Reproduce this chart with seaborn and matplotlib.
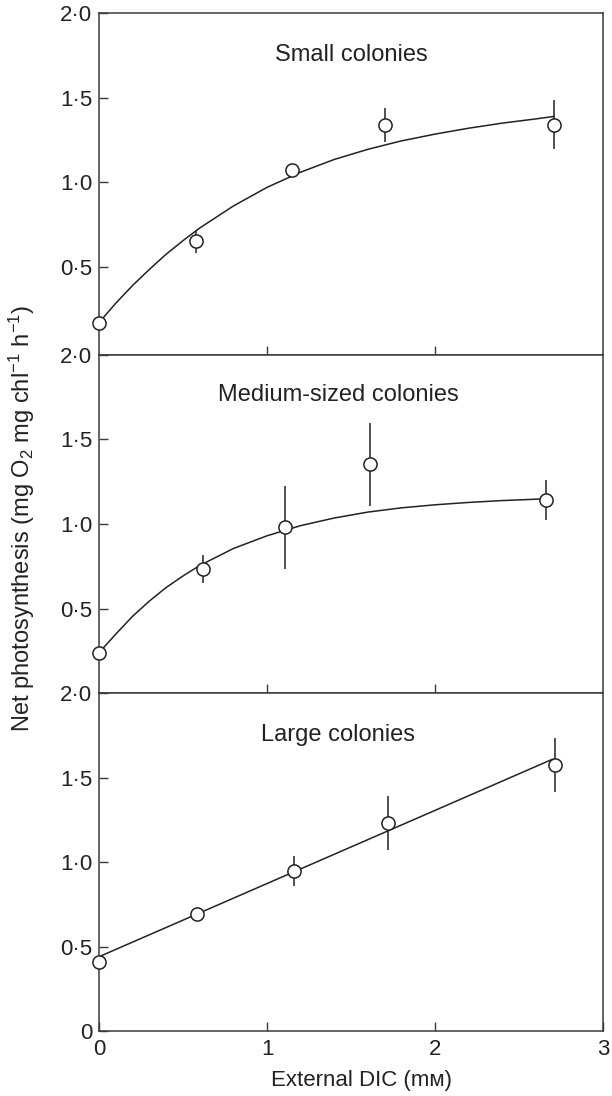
import matplotlib
matplotlib.use('Agg')
import matplotlib.pyplot as plt
import seaborn as sns
from matplotlib.ticker import FuncFormatter

small_x = [0, 0.58, 1.15, 1.70, 2.71]
small_y = [0.17, 0.65, 1.07, 1.34, 1.34]
small_err = [0, 0.07, 0.02, 0.10, 0.145]

medium_x = [0, 0.62, 1.107, 1.615, 2.66]
medium_y = [0.24, 0.736, 0.98, 1.353, 1.142]
medium_err = [0, 0.083, 0.245, 0.245, 0.12]

large_x = [0, 0.583, 1.163, 1.718, 2.714]
large_y = [0.407, 0.691, 0.948, 1.23, 1.575]
large_err = [0, 0.03, 0.09, 0.16, 0.16]

# fitted curves
small_fit_x = [0, 0.1, 0.2, 0.3, 0.4, 0.5, 0.6, 0.8, 1.0, 1.2, 1.4, 1.6, 1.8,
               2.0, 2.2, 2.4, 2.6, 2.71]
small_fit_y = [0.17, 0.285, 0.39, 0.485, 0.575, 0.655, 0.73, 0.86, 0.97, 1.06,
               1.135, 1.195, 1.245, 1.285, 1.32, 1.35, 1.375, 1.39]

medium_fit_x = [0, 0.1, 0.2, 0.3, 0.4, 0.5, 0.6, 0.8, 1.0, 1.2, 1.4, 1.6, 1.8,
                2.0, 2.2, 2.4, 2.6, 2.66]
medium_fit_y = [0.24, 0.35, 0.455, 0.545, 0.625, 0.693, 0.755, 0.855, 0.93,
                0.99, 1.035, 1.07, 1.095, 1.113, 1.127, 1.138, 1.146, 1.149]

large_fit_x = [0, 2.70]
large_fit_y = [0.44, 1.61]

panel_titles = ['Small colonies', 'Medium-sized colonies', 'Large colonies']
x_ticks = [0, 1, 2, 3]

sns.set_style('ticks')
plt.rcParams['font.family'] = ['Liberation Sans', 'DejaVu Sans']
plt.rcParams['mathtext.fontset'] = 'custom'
plt.rcParams['mathtext.rm'] = 'Liberation Sans'
plt.rcParams['mathtext.it'] = 'Liberation Sans:italic'

ink = '#222222'
spine_col = '#3a3a3a'

fig = plt.figure(figsize=(6.12, 10.96), dpi=100)
rects = [[0.1618, 0.6765, 0.8235, 0.3114],
         [0.1618, 0.3674, 0.8235, 0.3091],
         [0.1618, 0.0593, 0.8235, 0.3081]]
ylims = [(-0.019, 2.0), (0, 2.0), (0, 2.0)]
title_pos = [(0.5, 0.878), (0.475, 0.882), (0.475, 0.877)]

panels = [
    (small_x, small_y, small_err, small_fit_x, small_fit_y),
    (medium_x, medium_y, medium_err, medium_fit_x, medium_fit_y),
    (large_x, large_y, large_err, large_fit_x, large_fit_y),
]


def fmt_tick(v, pos):
    if abs(v) < 1e-9:
        return '0'
    return f'{v:.1f}'.replace('.', '\u00b7')


for i, (px, py, pe, fx, fy) in enumerate(panels):
    ax = fig.add_axes(rects[i])
    sns.lineplot(x=fx, y=fy, ax=ax, color=ink, lw=1.1, sort=False,
                 estimator=None, zorder=2)
    ax.errorbar(px, py, yerr=pe, fmt='none', ecolor=ink, elinewidth=1.1,
                capsize=0, zorder=3, clip_on=False)
    sns.scatterplot(x=px, y=py, ax=ax, s=90, facecolor='white',
                    edgecolor=ink, linewidth=1.1, zorder=5, clip_on=False)

    ax.set_xlim(0, 3)
    ax.set_ylim(*ylims[i])
    if i == 2:
        ax.set_yticks([0, 0.5, 1.0, 1.5, 2.0])
        ax.set_xticks(x_ticks)
        ax.set_xticklabels([str(t) for t in x_ticks])
    else:
        ax.set_yticks([0.5, 1.0, 1.5, 2.0])
        ax.set_xticks([1, 2])
        ax.set_xticklabels([])
    ax.yaxis.set_major_formatter(FuncFormatter(fmt_tick))
    ax.tick_params(axis='both', direction='in', length=6.5, width=1.0,
                   color=spine_col, labelsize=16, labelcolor=ink)
    ax.tick_params(axis='y', pad=5)
    ax.tick_params(axis='x', pad=6)
    for sp in ax.spines.values():
        sp.set_color(spine_col)
        sp.set_linewidth(1.1)
    ax.set_xlabel('')
    ax.set_ylabel('')
    ax.text(title_pos[i][0], title_pos[i][1], panel_titles[i],
            transform=ax.transAxes, ha='center', va='center',
            fontsize=17, color=ink)

fig.text(0.036, 0.527,
         'Net photosynthesis (mg O$_2$ mg chl$^{-1}$ h$^{-1}$)',
         rotation=90, ha='center', va='center', fontsize=17, color=ink)
fig.text(0.59, 0.0145, 'External DIC (m\u1d0d)', ha='center', va='center',
         fontsize=16, color=ink)

fig.savefig('out.png', dpi=100)
